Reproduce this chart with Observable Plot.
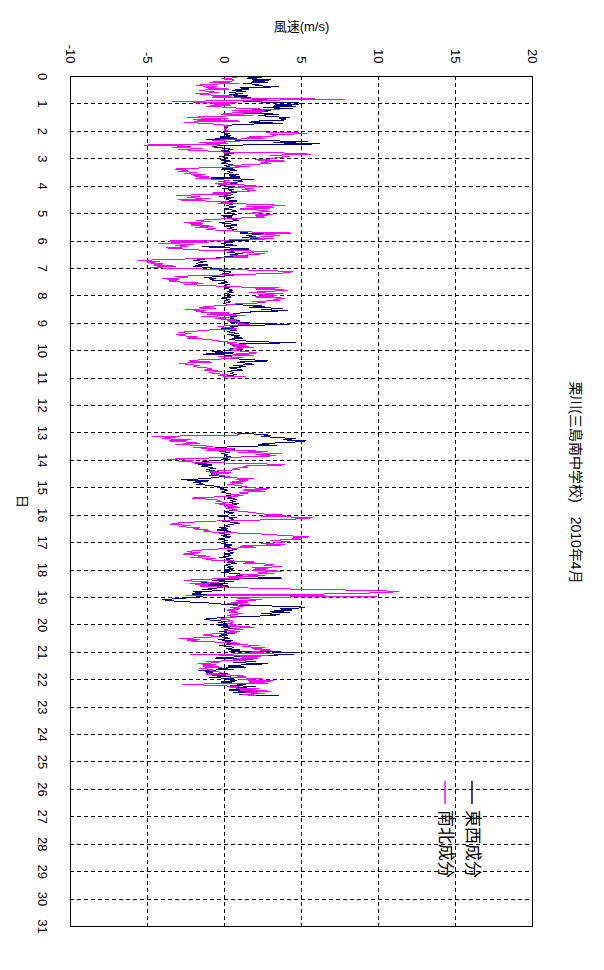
<!DOCTYPE html>
<html>
<head>
<meta charset="utf-8">
<script src="https://cdn.jsdelivr.net/npm/d3@7"></script>
<script src="https://cdn.jsdelivr.net/npm/@observablehq/plot@0.6"></script>
<style>
  html, body { margin: 0; padding: 0; background: #fff; }
  #chart svg { display: block; }
</style>
</head>
<body>
<div id="chart"></div>
<script>
// ---- data: hourly wind components (m/s) ----
const title = "栗川(三島南中学校)　2010年4月";
const xLabel = "風速(m/s)";
const yLabel = "日";
const seriesNames = ["東西成分", "南北成分"];
const seriesColors = ["#000080", "#ff00ff"];
const speedTicks = [-10, -5, 0, 5, 10, 15, 20];
const speedGrid = [-5, 0, 5, 10, 15];
const dayTicks = d3.range(0, 32);
const dayGrid = d3.range(1, 31);
const part1Start = 0;   // day 0 .. 11
const part2Start = 13;  // day 13 .. 22.6

// East-West component, days 0-10
const eastWest1 = [
  0.8, 2.4, 1.5, 3.0, 1.8, 2.8, 1.2, 2.2, 2.0, 3.5, 1.0, 1.6, 0.5, 1.4, 0.3, 1.2, 0.3, 1.5, 0.6, 2.0, 1.8, 3.5, 1.2, 4.8,
  5.0, 3.2, 4.6, 2.5, 4.4, 1.8, 3.0, 2.0, 1.2, 3.5, 2.2, 3.0, 4.2, 3.6, 4.0, 2.2, 1.6, 3.8, 0.6, 0.3, 0.1, 0.2, 0.0, 0.1,
  0.1, -0.2, 0.3, 0.0, 0.4, -0.3, 0.8, -1.2, 2.0, 5.4, 3.2, 6.2, 1.0, -0.8, -0.6, 0.2, 0.5, -0.2, 0.3, 0.6, 0.0, 0.4, -0.3, 0.2,
  0.2, -0.3, 0.4, 0.0, -0.2, 0.5, 0.0, 0.3, 0.6, -0.2, 0.8, 0.2, 0.5, 0.0, 0.9, 0.3, 1.0, -1.2, 1.9, 0.6, 1.2, 0.2, 0.8, -0.3,
  0.2, 0.8, -0.1, 0.6, 0.3, 0.9, 0.0, 0.5, 0.4, -0.3, 0.6, 0.1, 0.2, 0.8, -0.2, 0.4, 0.5, 0.1, 0.7, 0.3, 0.0, 0.6, 0.8, 0.2,
  0.3, 0.8, -0.2, 0.5, 0.1, 0.6, 0.9, 0.2, -0.3, 0.4, 0.8, 0.0, 0.6, 0.2, 0.8, 0.3, 1.6, 1.0, 2.8, 1.4, 2.0, 1.2, 2.4, 1.8,
  0.0, 0.5, -0.2, 0.3, 0.8, -1.4, 0.2, 1.6, -0.3, 0.6, 0.2, 1.2, 0.4, 1.5, 0.0, -0.6, -1.5, -2.0, -1.2, -1.7, -1.8, -1.1, -2.0, -1.3,
  -0.5, 0.2, -0.3, 0.4, 0.3, -0.2, 0.6, -0.3, -1.3, -0.6, -0.9, 0.0, 0.2, -0.4, 0.3, 0.0, 0.5, 0.0, 0.3, 0.5, 0.2, 0.6, 0.0, 0.4,
  0.1, 0.4, -0.2, 0.3, 0.0, 0.4, 0.2, -0.1, 1.2, 2.6, 1.6, 3.8, 2.4, 4.1, 1.8, 1.0, 0.5, -0.4, 0.8, 0.2, 0.6, 0.0, 1.0, 0.4,
  2.0, 4.2, 1.2, 0.4, 0.6, -0.2, 0.8, 0.2, 0.4, 0.9, 0.2, 1.0, 0.6, 1.2, 0.3, 0.9, 1.8, 4.6, 1.0, 0.5, 0.9, 1.6, 0.4, 1.2,
  0.2, -0.8, 0.6, -1.4, 0.4, -0.3, 1.2, 0.6, 1.8, 2.8, 0.8, 1.5, 1.9, 0.6, 1.4, 0.3, 0.8, 1.2, 0.2, 0.6, 0.4, 0.8, 0.2, 0.5
];
// East-West component, days 13-22
const eastWest2 = [
  0.8, 2.0, 3.0, 2.4, 3.4, 4.6, 3.8, 5.3, 4.5, 3.0, 2.2, 3.4, 0.5, -0.6, 0.7, 0.0, -0.3, 0.3, -0.2, 0.2, 0.0, 0.4, -0.1, 0.3,
  -0.5, -1.4, -0.8, -1.9, -0.8, -1.5, -1.0, -0.6, -1.2, -0.7, -0.4, -0.9, -0.4, -1.0, 0.0, -0.6, -1.2, -2.8, -1.0, -2.0, -1.4, -1.8, -0.9, -0.4,
  0.0, -0.3, 0.2, 0.0, -0.2, 0.3, 0.6, 0.1, 0.5, 0.2, 0.8, 0.4, 0.7, 0.3, 0.9, 0.5, 0.2, 0.6, 0.1, 0.8, 0.4, 0.0, 0.6, 0.3,
  0.2, -0.4, 0.8, 0.3, 0.6, -0.2, 0.4, 1.0, 0.5, 0.0, 0.3, -0.3, 0.2, -0.5, 0.4, 0.0, -0.3, 0.3, -0.2, 0.4, 0.0, -0.4, 0.2, -0.1,
  0.2, -0.2, 0.5, 0.0, 0.4, 0.1, 0.8, 0.2, 0.3, 0.6, 0.0, 0.4, 0.2, -0.3, 0.5, 0.1, 0.6, 0.2, 0.8, 0.3, 0.0, 0.5, 0.2, 0.6,
  0.0, 0.4, -0.2, 0.6, 1.4, 0.8, 2.0, 3.7, 0.4, -0.8, 0.6, -1.5, 0.2, -1.2, 0.3, -0.2, -0.6, -1.4, -0.2, -2.0, -1.5, -2.1, -0.8, -1.6,
  -2.0, -3.1, -4.0, -3.4, -2.2, -0.8, 0.0, 1.5, 4.8, 5.2, 3.6, 4.4, 3.0, 4.2, 2.4, 3.6, 2.8, 0.6, -0.5, -1.3, -0.8, 0.2, -0.4, 0.4,
  -0.5, 0.3, -0.2, 0.6, 0.0, 0.4, -0.3, 0.8, -0.2, 0.2, -0.6, 0.1, 0.3, -0.4, 0.5, 0.0, 0.2, 0.7, -0.3, 0.4, 0.6, 0.1, 1.0, 0.3,
  4.9, 2.0, 4.5, 1.6, 0.8, -0.6, 1.8, 0.4, 2.0, 0.6, 2.8, 1.2, 0.2, 1.4, -0.4, 0.6, -1.7, -0.6, -1.2, 0.2, -0.8, 0.4, -1.0, 0.6,
  0.2, 0.8, -0.2, 0.6, 1.4, 0.4, 2.0, 0.6, 1.2, 0.3, 1.8, 0.6, 2.4, 1.0, 3.5
];
// North-South component, days 0-10
const northSouth1 = [
  0.2, 0.8, -0.2, 0.6, 0.5, -1.0, 0.9, -1.4, -1.8, -0.5, -1.2, 0.3, -1.6, -1.1, -0.4, -1.8, -1.2, 0.5, -0.8, 1.5, 7.8, 0.5, -3.4, 0.8,
  -0.8, 0.4, -1.2, 0.2, 1.2, 3.6, 0.5, 2.6, 0.4, -0.2, 1.8, -1.2, -2.4, 0.2, -2.0, 1.0, -2.6, -1.4, -0.3, 0.2, 0.0, 0.1, 0.0, 0.0,
  0.3, 4.4, 5.3, 3.0, 3.3, 1.5, 2.6, 0.5, -0.8, 1.0, -1.6, 0.2, -5.2, -2.2, -3.4, -1.4, -3.0, -1.2, -0.5, 4.0, 5.6, 3.0, 4.2, 3.3,
  3.2, 2.0, 3.9, 2.4, 3.0, 1.8, 0.2, 1.6, -1.5, -3.2, -2.4, -3.0, -1.8, -2.6, -1.3, -2.0, -1.0, -1.8, -0.5, 0.3, -0.4, 0.4, -0.6, 1.3,
  2.2, 0.5, 1.9, 1.2, 2.0, 0.6, -0.8, 0.2, -3.1, -1.6, -2.4, -1.0, -3.0, -1.2, 0.5, -0.4, 2.6, 3.9, 1.4, 3.2, 1.0, 2.4, 3.0, 2.0,
  1.5, 3.1, 2.0, 2.6, 0.8, -0.6, -1.8, -0.9, -2.6, -1.4, -2.2, -0.8, -1.9, -0.6, -1.2, 0.3, 1.5, 4.3, 2.4, 3.6, 3.0, 1.6, 3.2, 0.8,
  -3.6, -1.0, -4.3, -2.0, -3.2, -2.4, -3.8, -2.7, -1.5, 2.8, 1.2, 2.6, 1.8, 0.4, 1.5, -0.5, -3.2, -5.6, -4.2, -5.0, -4.0, -4.6, -3.2, -4.8,
  -3.5, 0.5, 3.2, 4.4, 3.8, 1.8, -1.0, -3.2, -2.4, -4.0, -3.0, -3.6, -2.8, -1.4, -2.6, -1.0, 0.2, 3.5, 2.0, 4.1, 3.0, 1.6, 3.8, 2.2,
  3.4, 2.0, 3.9, 3.2, 3.6, 1.8, 2.6, 0.8, 0.2, -0.8, -1.6, -0.6, -2.5, -1.2, -1.8, 0.3, -1.1, 1.3, -1.5, 0.6, -0.6, 0.8, 0.2, 1.0,
  0.8, 1.6, 0.2, -0.4, 0.4, 0.8, -1.2, -2.0, -3.0, -2.2, -3.1, -2.6, -1.8, -2.4, -1.2, -0.6, -0.2, 0.8, 0.2, 1.4, 0.6, 1.9, 0.8, 0.3,
  0.8, 1.5, 2.1, 0.6, 1.9, -0.4, 1.2, 0.3, -1.6, -2.3, -0.8, -2.9, -2.4, -1.6, -2.0, -1.2, -0.8, -1.3, -0.2, -1.0, -0.6, 0.2, -0.4, 1.4
];
// North-South component, days 13-22
const northSouth2 = [
  0.6, 1.0, 0.8, -4.7, -3.2, -4.0, -2.2, -3.6, -2.4, -1.6, -3.2, -1.5, -0.8, -2.0, 0.6, -1.2, 2.8, 0.9, 3.7, 2.0, 3.3, 1.2, -1.2, -3.7,
  -2.0, -3.0, -1.0, 2.5, 3.9, 1.2, 1.5, 0.6, 1.0, -0.2, -1.2, 0.4, -0.8, -0.5, 0.3, 0.0, 1.9, 0.8, 1.5, 0.4, 1.2, 0.2, 0.9, 1.3,
  1.8, 2.9, 1.2, 2.6, 1.0, 1.5, 0.4, 1.2, -0.6, -2.1, -1.0, -0.3, -0.5, 0.2, -0.6, 0.6, 0.0, 1.0, 0.2, 0.8, 0.6, 1.4, 2.0, 2.6,
  4.0, 2.4, 5.7, 5.4, 3.0, -0.4, -2.0, -3.2, -3.5, -2.2, -2.9, -1.6, -2.0, -1.0, -1.4, -0.6, 1.9, 3.0, 4.2, 5.5, 4.4, 5.0, 3.0, 4.2,
  3.6, 2.4, 3.9, 1.0, 2.0, 0.4, -1.0, -2.0, -2.4, -1.6, -2.7, -1.8, -1.0, -2.2, -0.6, -1.2, 0.4, 2.0, 1.2, 3.2, 2.6, 3.7, 1.8, 2.8,
  1.8, 3.7, 2.2, 3.2, 1.0, 2.6, 0.2, 1.2, -1.2, -2.6, -1.8, -0.4, -2.2, -1.0, -1.6, 0.4, 2.0, 5.8, 10.2, 11.3, 9.8, 6.4, -2.5, 9.9,
  0.5, 1.2, 2.4, 0.8, 1.5, 0.2, 1.6, 0.6, 1.2, 0.4, 1.0, 0.2, 0.8, 0.3, 1.2, 0.5, 0.2, 0.8, 0.0, -0.3, 0.5, 0.1, 0.6, 0.2,
  0.8, 0.2, 1.9, 0.6, 1.2, 0.0, 1.0, 0.3, -0.8, -1.4, -0.4, -1.2, -2.9, -1.6, -2.4, -0.6, 1.0, 0.4, 2.2, 1.2, 2.6, 1.8, 3.0, 2.2,
  1.6, 3.2, -2.2, 2.8, 1.0, 2.2, 0.6, 1.4, -1.2, -0.4, -1.7, -0.6, -1.4, -0.2, -1.6, -0.8, -1.0, -0.4, -0.2, -1.2, 0.6, 1.4, 0.4, 2.4,
  1.0, 3.2, 1.6, 2.8, -2.7, -0.6, 1.0, 0.4, 2.2, 1.0, 3.0, 1.4, 2.6, 1.2, 2.0
];

// ---- build tables (a NaN row breaks the line at the data gap) ----
function rowsOf(a, b) {
  const rows = a.map((v, i) => ({t: part1Start + i / 24, v}));
  rows.push({t: NaN, v: NaN});
  b.forEach((v, i) => rows.push({t: part2Start + i / 24, v}));
  return rows;
}
const ewRows = rowsOf(eastWest1, eastWest2);
const nsRows = rowsOf(northSouth1, northSouth2);

const FONT = "'Liberation Sans', 'Noto Sans CJK JP', sans-serif";
const legendX = [16.07, 14.32];
const crisp = {shapeRendering: "crispEdges"};

const chart = Plot.plot({
  width: 604,
  height: 970,
  marginLeft: 70,
  marginRight: 72,
  marginTop: 76,
  marginBottom: 44,
  style: {fontFamily: FONT, background: "#fff", color: "#000"},
  x: {domain: [-10, 20], axis: null},
  y: {domain: [0, 31], reverse: true, axis: null},
  marks: [
    Plot.gridX(speedGrid, {stroke: "#000", strokeOpacity: 1, strokeDasharray: "4,3", ...crisp}),
    Plot.gridY(dayGrid, {stroke: "#000", strokeOpacity: 1, strokeDasharray: "4,3", ...crisp}),
    Plot.line(ewRows, {x: "v", y: "t", stroke: seriesColors[0], strokeWidth: 1, ...crisp}),
    Plot.line(nsRows, {x: "v", y: "t", stroke: seriesColors[1], strokeWidth: 1, ...crisp}),
    Plot.frame({stroke: "#000", strokeWidth: 1, ...crisp}),
    // top tick labels (rotated)
    Plot.text(speedTicks, {x: d => d, frameAnchor: "top", text: d => String(d), rotate: 90,
      textAnchor: "end", lineAnchor: "middle", dy: -13, fontSize: 13, fill: "#000"}),
    // left tick labels (rotated)
    Plot.text(dayTicks, {y: d => d, frameAnchor: "left", text: d => String(d), rotate: 90,
      textAnchor: "middle", lineAnchor: "middle", dx: -28, fontSize: 13, fill: "#000"}),
    // axis titles
    Plot.text([xLabel], {frameAnchor: "top", text: d => d, dy: -50, fontSize: 13, lineAnchor: "middle", fill: "#000"}),
    Plot.text([yLabel], {frameAnchor: "left", text: d => d, dx: -48, rotate: 90, fontSize: 13,
      textAnchor: "middle", lineAnchor: "middle", fill: "#000"}),
    // title on the right
    Plot.text([title], {frameAnchor: "right", text: d => d, dx: 43, dy: -19, rotate: 90, fontSize: 14,
      textAnchor: "middle", lineAnchor: "middle", fill: "#000"}),
    // legend
    Plot.ruleX(seriesNames, {x: (d, i) => legendX[i], y1: 25.7, y2: 26.55, stroke: (d, i) => seriesColors[i], strokeWidth: 1.5}),
    Plot.text(seriesNames, {x: (d, i) => legendX[i], y: 26.75, text: d => d, rotate: 90, textAnchor: "start",
      lineAnchor: "middle", fontSize: 17, fill: "#000"})
  ]
});
document.getElementById("chart").appendChild(chart);
</script>
</body>
</html>
